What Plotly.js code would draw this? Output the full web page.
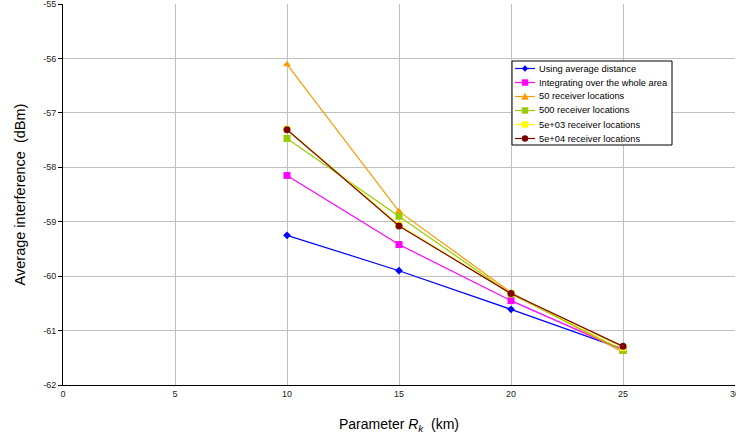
<!DOCTYPE html>
<html><head><meta charset="utf-8">
<script src="https://cdn.plot.ly/plotly-3.0.1.min.js"></script>
<style>body{margin:0;padding:0;background:#fff}#chart{width:736px;height:441px}</style>
</head><body><div id="chart"></div>
<script>
var xVals = [10, 15, 20, 25];
var seriesNames = ["Using average distance", "Integrating over the whole area", "50 receiver locations", "500 receiver locations", "5e+03 receiver locations", "5e+04 receiver locations"];
var avgDistance = [-59.25, -59.90, -60.61, -61.34];
var integrating = [-58.15, -59.42, -60.45, -61.36];
var rx50 = [-56.11, -58.81, -60.30, -61.40];
var rx500 = [-57.47, -58.90, -60.33, -61.36];
var rx5e3 = [-57.30, -59.06, -60.32, -61.31];
var rx5e4 = [-57.31, -59.08, -60.32, -61.29];
var xTicks = [0, 5, 10, 15, 20, 25, 30];
var yTicks = [-62, -61, -60, -59, -58, -57, -56, -55];

var colors = ["#0000ff", "#ff00ff", "#ff9900", "#99cc00", "#ffff00", "#800000"];
var symbols = ["diamond", "square", "triangle-up", "square", "square", "circle"];
var allY = [avgDistance, integrating, rx50, rx500, rx5e3, rx5e4];

var traces = allY.map(function(y, i){
  return {x: xVals, y: y, name: seriesNames[i], type: "scatter", mode: "lines+markers",
    line: {color: colors[i], width: 1.2},
    marker: {color: colors[i], symbol: symbols[i], size: symbols[i] === "diamond" ? 6 : 7},
    showlegend: false};
});

// Legend drawn in paper coordinates (Excel-style compact legend)
var L = 63, T = 4, W = 672, H = 381;
function px(x){ return (x - L) / W; }
function py(y){ return (T + H - y) / H; }
var shapes = [], annotations = [];
var boxL = 512, boxR = 672, boxT = 61, boxB = 145, row0 = 68.5, rowH = 14;
shapes.push({type: "rect", xref: "paper", yref: "paper", x0: px(boxL), x1: px(boxR), y0: py(boxB), y1: py(boxT),
  line: {color: "#000", width: 1}, fillcolor: "#ffffff", layer: "above"});
seriesNames.forEach(function(name, i){
  var cy = row0 + i * rowH, cx = 525;
  shapes.push({type: "line", xref: "paper", yref: "paper", x0: px(515), x1: px(535), y0: py(cy), y1: py(cy),
    line: {color: colors[i], width: 1.2}, layer: "above"});
  var s = symbols[i], r = 3.2, path;
  if (s === "diamond") {
    path = "M" + px(cx - r) + "," + py(cy) + " L" + px(cx) + "," + py(cy - r) + " L" + px(cx + r) + "," + py(cy) + " L" + px(cx) + "," + py(cy + r) + " Z";
    shapes.push({type: "path", xref: "paper", yref: "paper", path: path, fillcolor: colors[i], line: {width: 0}, layer: "above"});
  } else if (s === "square") {
    shapes.push({type: "rect", xref: "paper", yref: "paper", x0: px(cx - r), x1: px(cx + r), y0: py(cy + r), y1: py(cy - r),
      fillcolor: colors[i], line: {width: 0}, layer: "above"});
  } else if (s === "triangle-up") {
    path = "M" + px(cx - r - 0.5) + "," + py(cy + r) + " L" + px(cx) + "," + py(cy - r - 0.5) + " L" + px(cx + r + 0.5) + "," + py(cy + r) + " Z";
    shapes.push({type: "path", xref: "paper", yref: "paper", path: path, fillcolor: colors[i], line: {width: 0}, layer: "above"});
  } else {
    shapes.push({type: "circle", xref: "paper", yref: "paper", x0: px(cx - r), x1: px(cx + r), y0: py(cy + r), y1: py(cy - r),
      fillcolor: colors[i], line: {width: 0}, layer: "above"});
  }
  annotations.push({xref: "paper", yref: "paper", x: px(537), y: py(cy), xanchor: "left", yanchor: "middle",
    text: name, showarrow: false, font: {size: 9.3, color: "#000"}});
});

var layout = {
  width: 736, height: 441,
  margin: {l: 63, r: 1, t: 4, b: 56},
  paper_bgcolor: "#ffffff", plot_bgcolor: "#ffffff",
  font: {family: "Liberation Sans, Arial, sans-serif", color: "#000"},
  showlegend: false,
  shapes: shapes, annotations: annotations,
  xaxis: {range: [0, 30], tickvals: xTicks, ticktext: xTicks.map(String),
    showgrid: true, gridcolor: "#c0c0c0", gridwidth: 1, zeroline: false,
    showline: true, linecolor: "#000", linewidth: 1,
    ticks: "", ticklabeloverflow: "allow", tickfont: {size: 9, color: "#222"},
    title: {text: "Parameter <i>R<sub>k</sub></i>  (km)", font: {size: 14}, standoff: 21}},
  yaxis: {range: [-62, -55], tickvals: yTicks, ticktext: yTicks.map(String),
    showgrid: true, gridcolor: "#c0c0c0", gridwidth: 1, zeroline: false,
    showline: true, linecolor: "#000", linewidth: 1,
    ticks: "outside", ticklen: 4, tickcolor: "#000", ticklabeloverflow: "allow", tickfont: {size: 9, color: "#222"},
    title: {text: "Average interference  (dBm)", font: {size: 14.5}, standoff: 14}}
};
Plotly.newPlot("chart", traces, layout, {displayModeBar: false, staticPlot: true});
</script></body></html>
